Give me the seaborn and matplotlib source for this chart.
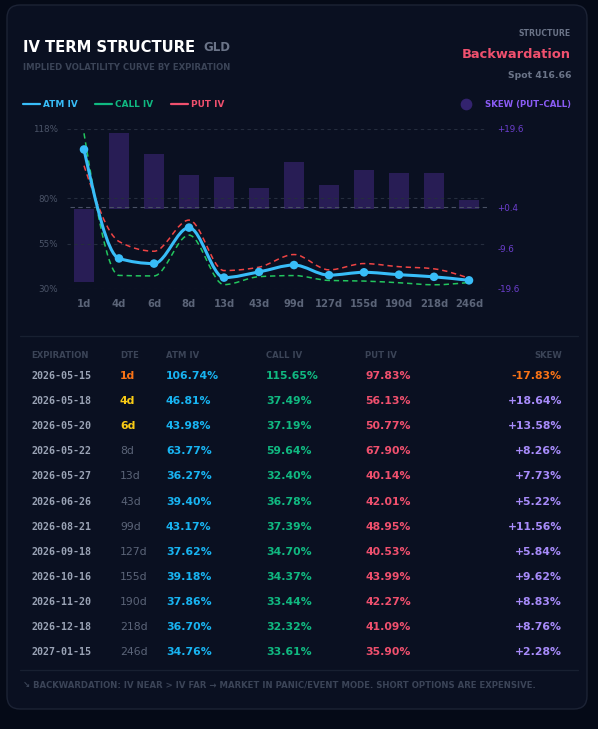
import numpy as np
import pandas as pd
import matplotlib
matplotlib.use("Agg")
import matplotlib.pyplot as plt
import seaborn as sns
from matplotlib.path import Path
from matplotlib.patches import PathPatch, FancyBboxPatch
from matplotlib.lines import Line2D

# ---------------- data ----------------
dte_labels = ["1d", "4d", "6d", "8d", "13d", "43d", "99d", "127d", "155d", "190d", "218d", "246d"]
expirations = ["2026-05-15", "2026-05-18", "2026-05-20", "2026-05-22", "2026-05-27", "2026-06-26",
               "2026-08-21", "2026-09-18", "2026-10-16", "2026-11-20", "2026-12-18", "2027-01-15"]
atm_iv = [106.74, 46.81, 43.98, 63.77, 36.27, 39.40, 43.17, 37.62, 39.18, 37.86, 36.70, 34.76]
call_iv = [115.65, 37.49, 37.19, 59.64, 32.40, 36.78, 37.39, 34.70, 34.37, 33.44, 32.32, 33.61]
put_iv = [97.83, 56.13, 50.77, 67.90, 40.14, 42.01, 48.95, 40.53, 43.99, 42.27, 41.09, 35.90]
skew = [-17.83, 18.64, 13.58, 8.26, 7.73, 5.22, 11.56, 5.84, 9.62, 8.83, 8.76, 2.28]
left_ticks = [30, 55, 80, 118]
right_ticks = [-19.6, -9.6, 0.4, 19.6]

W, H = 598, 729
BG = "#050a17"
CARD = "#0a1021"
BLUE = "#38bdf8"
GREEN = "#22c55e"
RED = "#ef4444"
PURPLE_BAR = "#281d55"
GRAY = "#5b6478"
DIM = "#3b4457"

sns.set_theme(style="dark")
plt.rcParams["font.family"] = ["DejaVu Sans"]

fig = plt.figure(figsize=(W / 100, H / 100), dpi=100, facecolor=BG)

# background axes in pixel coordinates
bg = fig.add_axes([0, 0, 1, 1])
bg.set_xlim(0, W)
bg.set_ylim(H, 0)
bg.axis("off")
bg.set_zorder(0)
card = FancyBboxPatch((7, 5), 580, 704, boxstyle="round,pad=0,rounding_size=13",
                      facecolor=CARD, edgecolor="#1c2335", linewidth=1.0)
bg.add_patch(card)

# header text
bg.text(23, 47, "IV TERM STRUCTURE", color="white", fontsize=10.6, fontweight="bold", va="center")
bg.text(203, 47, "GLD", color="#6b7488", fontsize=8.5, fontweight="bold", va="center")
bg.text(23, 67, "IMPLIED VOLATILITY CURVE BY EXPIRATION", color=DIM, fontsize=6.1, fontweight="bold", va="center")
bg.text(571, 33, "STRUCTURE", color="#6b7488", fontsize=5.6, fontweight="bold", va="center", ha="right")
bg.text(571, 54, "Backwardation", color="#f0506e", fontsize=9.4, fontweight="bold", va="center", ha="right")
bg.text(571, 75, "Spot 416.66", color="#6b7488", fontsize=6.7, fontweight="bold", va="center", ha="right")

# legend
for x0, col, lab in [(23, BLUE, "ATM IV"), (95, "#10b981", "CALL IV"), (171, "#f0506e", "PUT IV")]:
    bg.add_line(Line2D([x0, x0 + 17], [104, 104], color=col, lw=1.6))
    bg.text(x0 + 20, 104, lab, color=col, fontsize=6.4, fontweight="bold", va="center")
bg.scatter([466], [104], s=55, color="#33236e", zorder=3)
bg.text(571, 104, "SKEW (PUT\u2013CALL)", color="#8b5cf6", fontsize=6.2, fontweight="bold", va="center", ha="right")

# ---------------- chart ----------------
x_l, x_r, y_t, y_b = 66.5, 486.5, 129, 289
rect = [x_l / W, 1 - y_b / H, (x_r - x_l) / W, (y_b - y_t) / H]
ax_bar = fig.add_axes(rect)
ax_line = fig.add_axes(rect)
for a in (ax_bar, ax_line):
    a.set_facecolor("none")
    for s in a.spines.values():
        s.set_visible(False)

df = pd.DataFrame({"dte": dte_labels, "skew": skew, "atm": atm_iv, "call": call_iv, "put": put_iv})
sns.barplot(data=df, x="dte", y="skew", ax=ax_bar, color=PURPLE_BAR, saturation=1, width=0.57,
            order=dte_labels, edgecolor="none")
ax_bar.set_ylim(-19.6, 19.6)
ax_bar.set_xlim(-0.5, 11.5)
ax_bar.axhline(0.4, color="#495165", lw=0.8, ls=(0, (4, 3)), xmin=0.008)
ax_bar.yaxis.tick_right()
ax_bar.set_yticks(right_ticks)
ax_bar.set_yticklabels(["-19.6", "-9.6", "+0.4", "+19.6"], color="#6d3fd0", fontsize=6.3)
ax_bar.tick_params(axis="y", length=0, pad=8)
ax_bar.set_xlabel("")
ax_bar.set_ylabel("")
ax_bar.set_xticks([])

ax_line.set_xlim(-0.5, 11.5)
ax_line.set_ylim(30, 118)
for v in left_ticks:
    ax_line.axhline(v, color="#252d3e", lw=0.8, ls=(0, (3, 3)), zorder=0)
ax_line.set_yticks(left_ticks)
ax_line.set_yticklabels([f"{v}%" for v in left_ticks], color="#4b5468", fontsize=6.3)
ax_line.tick_params(axis="y", length=0, pad=6)
ax_line.set_xticks(range(len(dte_labels)))
ax_line.set_xticklabels(dte_labels, color=GRAY, fontsize=7.2, fontweight="bold")
ax_line.tick_params(axis="x", length=0, pad=7)


def monotone_path(xs, ys):
    xs = np.asarray(xs, float)
    ys = np.asarray(ys, float)
    n = len(xs)
    h = np.diff(xs)
    s = np.diff(ys) / h
    t = np.zeros(n)
    for i in range(1, n - 1):
        s0, s1 = s[i - 1], s[i]
        if s0 * s1 <= 0:
            t[i] = 0
        else:
            p = (s0 * h[i] + s1 * h[i - 1]) / (h[i - 1] + h[i])
            t[i] = (np.sign(s0) + np.sign(s1)) * min(abs(s0), abs(s1), 0.5 * abs(p))
    t[0] = (3 * s[0] - t[1]) / 2
    t[-1] = (3 * s[-1] - t[-2]) / 2
    verts = [(xs[0], ys[0])]
    codes = [Path.MOVETO]
    for i in range(n - 1):
        d = h[i] / 3
        verts += [(xs[i] + d, ys[i] + d * t[i]), (xs[i + 1] - d, ys[i + 1] - d * t[i + 1]), (xs[i + 1], ys[i + 1])]
        codes += [Path.CURVE4] * 3
    return Path(verts, codes)


xpos = np.arange(len(dte_labels))
for vals, col, lw, ls in [(put_iv, RED, 1.1, (0, (3.5, 2.5))),
                          (call_iv, GREEN, 1.1, (0, (3.5, 2.5))),
                          (atm_iv, BLUE, 2.2, "solid")]:
    patch = PathPatch(monotone_path(xpos, vals), facecolor="none", edgecolor=col, lw=lw,
                      linestyle=ls, capstyle="butt", clip_on=False, zorder=3)
    ax_line.add_patch(patch)

sns.scatterplot(x=xpos, y=atm_iv, ax=ax_line, color=BLUE, s=38, edgecolor="none", zorder=4, clip_on=False)

# ---------------- table ----------------
bg.add_line(Line2D([20, 578], [336, 336], color="#182031", lw=0.9))
hdr_y = 355
for x, lab, ha in [(31, "EXPIRATION", "left"), (120, "DTE", "left"), (166, "ATM IV", "left"),
                   (266, "CALL IV", "left"), (365, "PUT IV", "left"), (562, "SKEW", "right")]:
    bg.text(x, hdr_y, lab, color=DIM, fontsize=6.1, fontweight="bold", va="center", ha=ha)

dte_colors = {"1d": "#f97316", "4d": "#facc15", "6d": "#facc15"}
fs = 7.8
for i in range(len(dte_labels)):
    y = 376 + i * 25.1
    bg.text(31, y, expirations[i], color="#9aa3b5", fontsize=7.2, fontweight="bold",
            family="DejaVu Sans Mono", va="center")
    dl = dte_labels[i]
    if dl in dte_colors:
        bg.text(120, y, dl, color=dte_colors[dl], fontsize=fs, fontweight="bold", va="center")
    else:
        bg.text(120, y, dl, color=GRAY, fontsize=fs, va="center")
    bg.text(166, y, f"{atm_iv[i]:.2f}%", color="#18b4f2", fontsize=fs, fontweight="bold", va="center")
    bg.text(266, y, f"{call_iv[i]:.2f}%", color="#10b981", fontsize=fs, fontweight="bold", va="center")
    bg.text(365, y, f"{put_iv[i]:.2f}%", color="#f0506e", fontsize=fs, fontweight="bold", va="center")
    sc = "#f97316" if skew[i] < 0 else "#a78bfa"
    bg.text(562, y, f"{skew[i]:+.2f}%", color=sc, fontsize=fs, fontweight="bold", va="center", ha="right")

bg.add_line(Line2D([20, 578], [670, 670], color="#182031", lw=0.9))
bg.text(23, 685, "\u2198 BACKWARDATION: IV NEAR > IV FAR \u2192 MARKET IN PANIC/EVENT MODE. SHORT OPTIONS ARE EXPENSIVE.",
        color=DIM, fontsize=6.15, fontweight="bold", va="center")

fig.savefig("out.png", dpi=100, facecolor=BG)
